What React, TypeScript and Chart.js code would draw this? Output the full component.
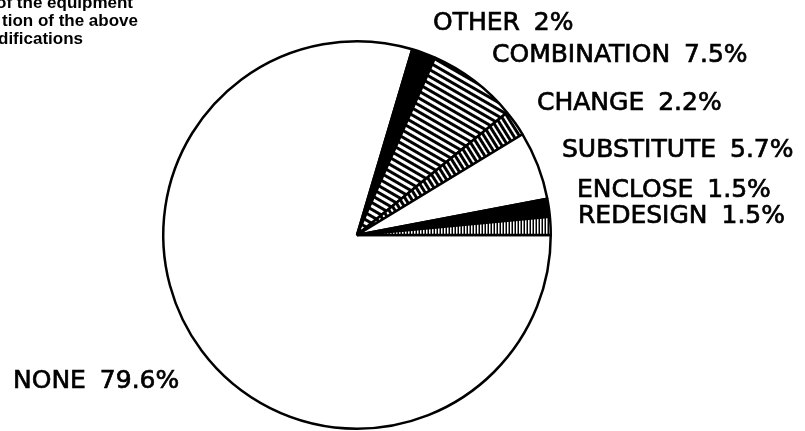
import React, { useEffect, useRef } from "react";
import { Chart, registerables } from "chart.js";

Chart.register(...registerables);

// Data (clockwise from 3 o'clock)
const categories = ["NONE", "OTHER", "COMBINATION", "CHANGE", "SUBSTITUTE", "ENCLOSE", "REDESIGN"];
const percentages = [79.6, 2, 7.5, 2.2, 5.7, 1.5, 1.5];
const percentText = ["79.6%", "2%", "7.5%", "2.2%", "5.7%", "1.5%", "1.5%"];

// Fill kinds per slice
const fillKinds = ["white", "black", "diag", "bars", "white", "black", "ticks"];

// Label placement relative to pie centre: [dx to left edge, dy to baseline]
const labelOffsets: [number, number][] = [
  [-344, 153],
  [76, -205],
  [135, -173],
  [180, -125],
  [205, -78],
  [220, -38],
  [221, -12],
];

// Cropped caption text at the top-left corner
const captionLines = ["of the equipment", "tion of the above", "odifications"];
const captionRight = [133, 138, 83];
const captionBaseline = [8, 26, 44];

function stripes(period: number, lw: number, angle: number): CanvasPattern | string {
  const c = document.createElement("canvas");
  c.width = period;
  c.height = period;
  const g = c.getContext("2d");
  if (!g) return "#888";
  g.fillStyle = "#fff";
  g.fillRect(0, 0, period, period);
  g.fillStyle = "#000";
  g.fillRect(0, 0, period, lw);
  const p = g.createPattern(c, "repeat");
  if (!p) return "#888";
  p.setTransform(new DOMMatrix().rotate(angle));
  return p;
}

function fillFor(kind: string): CanvasPattern | string {
  switch (kind) {
    case "black":
      return "#000";
    case "diag":
      return stripes(6, 3, 30);
    case "bars":
      return stripes(5, 3, 58);
    case "ticks":
      return stripes(3, 1.5, 90);
    default:
      return "#fff";
  }
}

const labelPlugin = {
  id: "pieLabels",
  afterDraw(chart: any) {
    const ctx = chart.ctx as CanvasRenderingContext2D;
    const meta = chart.getDatasetMeta(0);
    const arc = meta.data[0];
    if (!arc) return;
    const cx = arc.x;
    const cy = arc.y;
    ctx.save();
    ctx.fillStyle = "#000";
    ctx.strokeStyle = "#000";
    ctx.lineWidth = 0.7;
    ctx.textAlign = "left";
    ctx.textBaseline = "alphabetic";
    ctx.font = "25px 'DejaVu Sans'";
    try {
      (ctx as any).wordSpacing = "6px";
    } catch (e) {}
    categories.forEach((cat, i) => {
      const [dx, dy] = labelOffsets[i];
      const t = `${cat} ${percentText[i]}`;
      ctx.fillText(t, cx + dx, cy + dy);
      ctx.strokeText(t, cx + dx, cy + dy);
    });
    try {
      (ctx as any).wordSpacing = "0px";
    } catch (e) {}
    ctx.font = "bold 17px 'Liberation Sans', Arial, sans-serif";
    ctx.textAlign = "right";
    captionLines.forEach((line, i) => {
      ctx.fillText(line, captionRight[i], captionBaseline[i]);
    });
    ctx.restore();
  },
};

export default function App() {
  const canvasRef = useRef<HTMLCanvasElement | null>(null);

  useEffect(() => {
    if (!canvasRef.current) return;
    const chart = new Chart(canvasRef.current, {
      type: "pie",
      data: {
        labels: categories,
        datasets: [
          {
            data: percentages,
            backgroundColor: fillKinds.map(fillFor) as any,
            borderColor: "#000",
            borderWidth: 2.5,
            borderAlign: "center",
          },
        ],
      },
      options: {
        animation: false,
        responsive: true,
        maintainAspectRatio: false,
        rotation: 90,
        layout: { padding: { left: 162, right: 253, top: 40, bottom: 1 } },
        plugins: {
          legend: { display: false },
          tooltip: { enabled: false },
          title: { display: false },
        },
      },
      plugins: [labelPlugin],
    });
    return () => chart.destroy();
  }, []);

  return (
    <div style={{ position: "fixed", left: 0, top: 0, width: 805, height: 431, background: "#fff" }}>
      <canvas ref={canvasRef} />
    </div>
  );
}
